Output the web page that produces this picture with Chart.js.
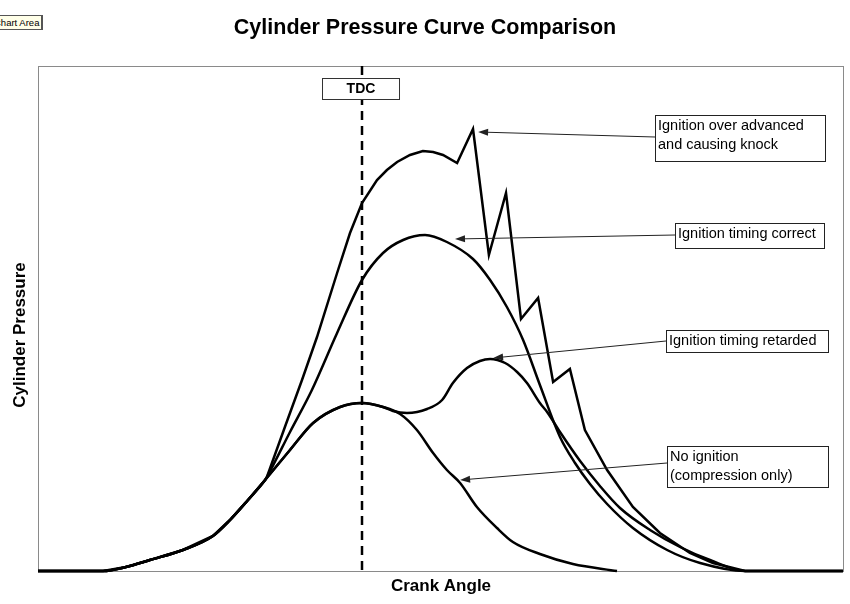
<!DOCTYPE html>
<html lang="en">
<head>
<meta charset="UTF-8">
<title>Cylinder Pressure Curve Comparison</title>
<script src="https://cdn.jsdelivr.net/npm/chart.js"></script>
<style>
    body { margin: 0; background: #fff; }
    .wrap { position: relative; width: 850px; height: 604px; overflow: hidden; }
    .tip {
        position: absolute; left: -9px; top: 15px; height: 13px; padding: 0 2px 0 2px;
        background: #ffffe8; border: 1px solid #555; border-right-width: 2px;
        font: 9.5px "Liberation Sans", Arial, sans-serif; line-height: 13px; color: #000;
    }
</style>
</head>
<body>
<div class="wrap">
    <canvas id="pressure-chart" width="850" height="604"></canvas>
    <div class="tip">Chart Area</div>
</div>
<script>
// crank angle in degrees (TDC = 0), pressure in arbitrary units
const compressionAngle = [-108, -86.3, -78.7, -70.7, -59.7, -49.7, -44, -38, -32.3, -24, -16.3, -7.3, 0, 7, 12.7, 18.3, 23.7, 28.3, 32.7, 38.3, 45, 50.3, 59.3, 70.3, 85];
const compressionPressure = [0, 0, 0.8, 2.2, 4.2, 7.0, 10.2, 14.2, 18.2, 24.2, 29.6, 32.8, 33.6, 32.8, 31.4, 28.2, 23.6, 20.2, 17.6, 12.8, 8.6, 5.8, 3.4, 1.4, 0];

// retarded curve leaves the compression curve just after TDC
const retardedAngle = [10.3, 15, 21.7, 26.7, 30.3, 35, 39.3, 42.7, 47.7, 51.7, 55, 59.3, 61.7, 66, 72.7, 79.3, 86, 96, 106, 116, 127.7, 160.3];
const retardedPressure = [32, 31.6, 32.4, 34.2, 37.6, 40.6, 42, 42.4, 41.6, 39.8, 37.6, 33.6, 31.8, 27.8, 22, 17, 12.6, 8.2, 4.8, 2.2, 0, 0];

// correct and knock curves leave it before TDC
const correctAngle = [-31.7, -24, -16.7, -8.3, 0, 7, 13.7, 21, 28.3, 37, 42.7, 48.3, 53.7, 59.3, 66, 71, 76, 81.7, 90.3, 101.7, 112.7, 127.7, 160.3];
const correctPressure = [18.8, 27.8, 36.2, 47.6, 58.2, 63.6, 66.2, 67.2, 65.8, 62.4, 58.2, 52.8, 46.2, 37.2, 26.8, 21.6, 17.4, 13.4, 8.6, 4.2, 1.6, 0, 0];

const knockAngle = [-31.7, -25.7, -20, -15, -8.3, -4, 0, 5, 8.3, 11.7, 16, 20.3, 23.7, 27, 31.7, 37, 42.3, 48, 53, 58.7, 63.7, 69.3, 74.3, 81.7, 90.3, 99.3, 109.3, 117, 127.7, 160.3];
const knockPressure = [18.8, 28.8, 38.2, 46.8, 59.6, 67.6, 73.6, 78.2, 80.2, 81.8, 83.2, 84, 83.8, 83.2, 81.6, 88.4, 63.2, 75.6, 50.4, 54.6, 37.8, 40.4, 28.2, 20.2, 12.8, 7.6, 3.6, 1.6, 0, 0];

const tdcAngle = 0;

const FONT = '"Liberation Sans", Arial, sans-serif';

// label boxes (pixels) and the curve point each arrow points at (data units)
const notes = [
    { lines: ["Ignition over advanced", "and causing knock"], box: [655, 115, 170, 46], from: 137, to: [38.7, 87.8] },
    { lines: ["Ignition timing correct"], box: [675, 223, 149, 25], from: 235, to: [31, 66.4] },
    { lines: ["Ignition timing retarded"], box: [666, 330, 162, 22], from: 341, to: [43.7, 42.6] },
    { lines: ["No ignition", "(compression only)"], box: [667, 446, 161, 41], from: 463, to: [32.7, 18.2] },
];

function points(angle, pressure) {
    return angle.map((a, i) => ({ x: a, y: pressure[i] }));
}

const compression = points(compressionAngle, compressionPressure);
const beforeRetard = compression.filter(p => p.x <= 7);
const beforeIgnition = compression.filter(p => p.x < -32);

function series(data, smooth) {
    return {
        data: data,
        borderColor: "#000",
        borderWidth: 2.5,
        pointRadius: 0,
        showLine: true,
        fill: false,
        tension: 0,
        cubicInterpolationMode: smooth ? "monotone" : "default",
        clip: 4,
    };
}

function arrow(ctx, x0, y0, x1, y1) {
    const ang = Math.atan2(y1 - y0, x1 - x0);
    const c = Math.cos(ang), s = Math.sin(ang);
    ctx.beginPath();
    ctx.moveTo(x0, y0);
    ctx.lineTo(x1 - 7 * c, y1 - 7 * s);
    ctx.stroke();
    ctx.beginPath();
    ctx.moveTo(x1, y1);
    ctx.lineTo(x1 - 10 * c + 3.5 * s, y1 - 10 * s - 3.5 * c);
    ctx.lineTo(x1 - 10 * c - 3.5 * s, y1 - 10 * s + 3.5 * c);
    ctx.closePath();
    ctx.fill();
}

const decorations = {
    id: "decorations",
    beforeDatasetsDraw(chart) {
        const { ctx, chartArea: a, scales } = chart;
        ctx.save();
        // plot frame
        ctx.strokeStyle = "#8a8a8a";
        ctx.lineWidth = 1;
        ctx.strokeRect(a.left + 0.5, a.top + 0.5, a.right - a.left, a.bottom - a.top);
        // TDC line
        const x = scales.x.getPixelForValue(tdcAngle);
        ctx.strokeStyle = "#000";
        ctx.lineWidth = 2.5;
        ctx.setLineDash([9, 6]);
        ctx.beginPath();
        ctx.moveTo(x, a.top);
        ctx.lineTo(x, a.bottom);
        ctx.stroke();
        ctx.restore();
    },
    afterDatasetsDraw(chart) {
        const { ctx, scales } = chart;
        ctx.save();
        ctx.fillStyle = "#000";
        ctx.textAlign = "center";
        ctx.textBaseline = "middle";
        ctx.font = "bold 21.5px " + FONT;
        ctx.fillText("Cylinder Pressure Curve Comparison", 425, 28);
        ctx.font = "bold 17px " + FONT;
        ctx.fillText("Crank Angle", 441, 586);
        ctx.save();
        ctx.translate(20, 335);
        ctx.rotate(-Math.PI / 2);
        ctx.fillText("Cylinder Pressure", 0, 0);
        ctx.restore();

        // TDC box
        const tx = scales.x.getPixelForValue(tdcAngle);
        ctx.fillStyle = "#fff";
        ctx.fillRect(tx - 40, 78, 77, 21);
        ctx.strokeStyle = "#333";
        ctx.lineWidth = 1;
        ctx.strokeRect(tx - 39.5, 78.5, 77, 21);
        ctx.fillStyle = "#000";
        ctx.font = "bold 14px " + FONT;
        ctx.fillText("TDC", tx - 1, 89.5);

        // callouts
        ctx.textAlign = "left";
        ctx.font = "14.5px " + FONT;
        ctx.strokeStyle = "#222";
        ctx.fillStyle = "#222";
        notes.forEach(n => {
            const [bx, by, bw, bh] = n.box;
            arrow(ctx, bx, n.from, scales.x.getPixelForValue(n.to[0]), scales.y.getPixelForValue(n.to[1]));
            ctx.fillStyle = "#fff";
            ctx.fillRect(bx, by, bw, bh);
            ctx.strokeRect(bx + 0.5, by + 0.5, bw, bh);
            ctx.fillStyle = "#000";
            n.lines.forEach((t, i) => ctx.fillText(t, bx + 3, by + 11 + i * 19));
            ctx.fillStyle = "#222";
        });
        ctx.restore();
    },
};

new Chart(document.getElementById("pressure-chart"), {
    type: "scatter",
    data: {
        datasets: [
            series(compression, true),
            series(beforeRetard.concat(points(retardedAngle, retardedPressure)), true),
            series(beforeIgnition.concat(points(correctAngle, correctPressure)), true),
            series(beforeIgnition.concat(points(knockAngle, knockPressure)), false),
        ],
    },
    options: {
        responsive: false,
        animation: false,
        events: [],
        layout: { padding: { left: 38, top: 66, right: 7, bottom: 33 } },
        plugins: { legend: { display: false }, tooltip: { enabled: false }, title: { display: false } },
        scales: {
            x: { type: "linear", min: -108, max: 160.33, display: false },
            y: { type: "linear", min: 0, max: 101, display: false },
        },
    },
    plugins: [decorations],
});
</script>
</body>
</html>
